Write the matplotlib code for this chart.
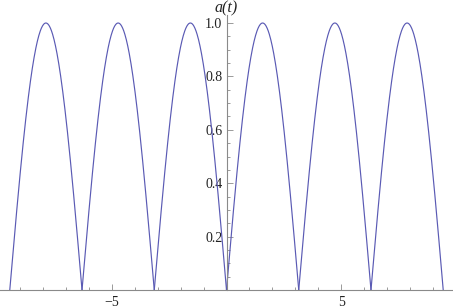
import numpy as np
import matplotlib.pyplot as plt
from matplotlib.ticker import MultipleLocator, FixedLocator

# arch boundaries (zeros of the curve) and peak height
arch_zeros = [-3 * np.pi, -2 * np.pi, -np.pi, 0.0, np.pi, 2 * np.pi, 3 * np.pi]
peak_value = 1.0
x_major = [-5, 5]
x_labels = ['\u22125', '5']
y_major = [0.2, 0.4, 0.6, 0.8, 1.0]
y_labels = ['0.2', '0.4', '0.6', '0.8', '1.0']

line_color = '#5a5ab4'
axis_color = '#8a8a8a'

plt.rcParams['font.family'] = 'serif'
plt.rcParams['font.serif'] = ['Liberation Serif', 'DejaVu Serif']

fig = plt.figure(figsize=(4.53, 3.08), dpi=100)
ax = fig.add_axes([0.0, 18 / 308, 1.0, (290 - 15) / 308])

# each arch of a(t) = |sin t| between consecutive zeros
for a, b in zip(arch_zeros[:-1], arch_zeros[1:]):
    t = np.linspace(a, b, 200)
    ax.plot(t, peak_value * np.abs(np.sin(t)), color=line_color, lw=0.85)

ax.set_xlim(-9.85, 9.85)
ax.set_ylim(0, 1.03)

for s in ['top', 'right']:
    ax.spines[s].set_visible(False)
ax.spines['left'].set_position(('data', 0))
ax.spines['bottom'].set_position(('data', 0))
for s in ['left', 'bottom']:
    ax.spines[s].set_color(axis_color)
    ax.spines[s].set_linewidth(0.8)

ax.xaxis.set_major_locator(FixedLocator(x_major))
ax.xaxis.set_minor_locator(MultipleLocator(1))
ax.yaxis.set_major_locator(FixedLocator(y_major))
ax.yaxis.set_minor_locator(MultipleLocator(0.05))
ax.set_xticklabels(x_labels)
ax.set_yticklabels(y_labels)

ax.tick_params(which='both', direction='in', color=axis_color, width=0.6,
               labelsize=10, labelcolor='#222222')
ax.tick_params(which='major', length=4)
ax.tick_params(which='minor', length=2.5)
ax.tick_params(axis='x', pad=4)
ax.tick_params(axis='y', pad=3)

ax.patch.set_visible(False)
fig.text(226 / 453, 1 - 8 / 308, 'a(t)', ha='center', va='center',
         fontsize=11.5, style='italic', color='#222222')

fig.savefig('out.png', dpi=100)
